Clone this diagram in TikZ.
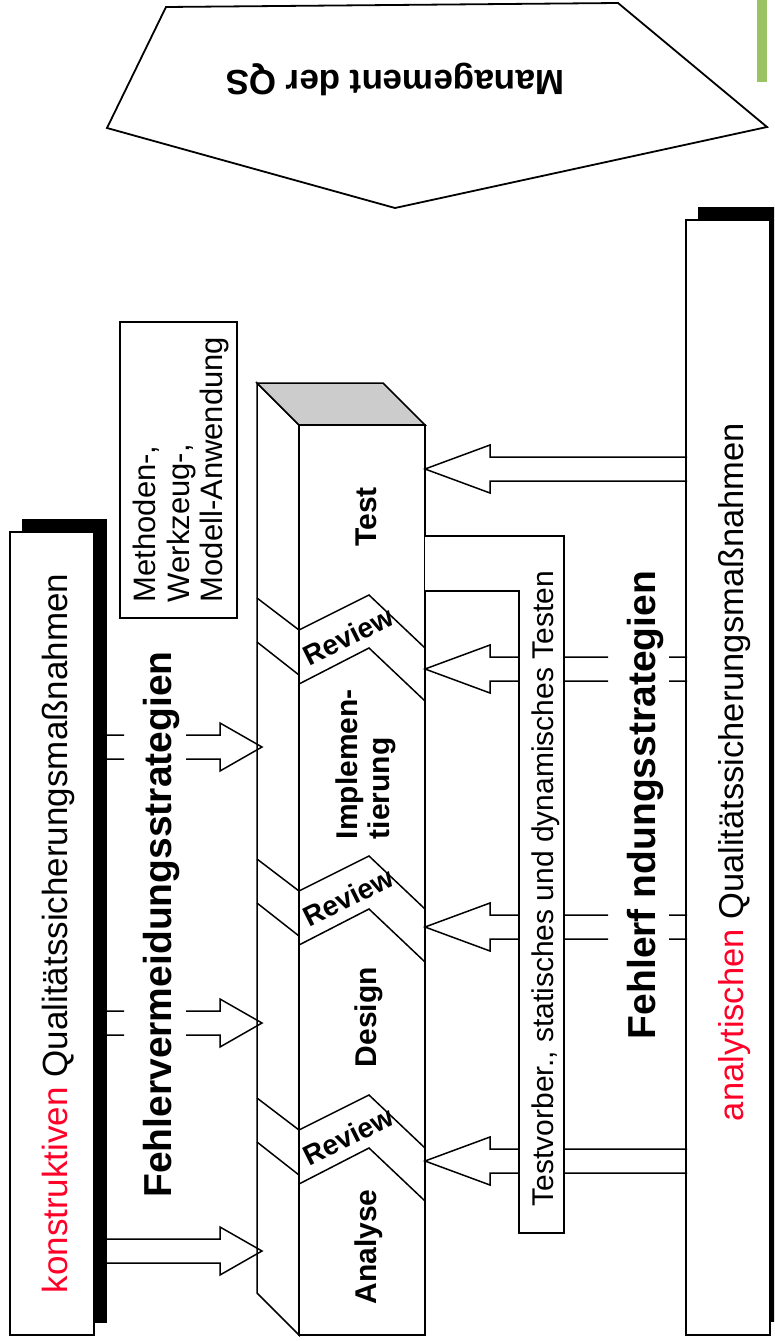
\documentclass[tikz,border=0pt]{standalone}
\usepackage{fontspec}
\setmainfont{Liberation Sans}
\definecolor{qsred}{RGB}{255,0,40}
\definecolor{qsgreen}{RGB}{155,195,100}
\definecolor{topgray}{RGB}{204,204,204}

\begin{document}
\begin{tikzpicture}[x=1pt,y=-1pt,line width=1.5pt,line join=miter,
  phase/.style={font=\fontsize{30}{32}\selectfont\bfseries,rotate=90,inner sep=0},
  reviewtext/.style={font=\fontsize{28}{32}\selectfont\bfseries,rotate=26.6,inner sep=0},
  strategy/.style={font=\fontsize{39}{44}\selectfont\bfseries,rotate=90,inner sep=0,anchor=base},
  boxtext/.style={font=\fontsize{35}{40}\selectfont,rotate=90,inner sep=0,anchor=base},
  smalltext/.style={font=\fontsize{30}{33}\selectfont,rotate=90,inner sep=0}]
\clip (0,0) rectangle (774,1341);
\useasboundingbox (0,0) rectangle (774,1341);

% management pentagon
\draw[line width=1.8pt] (166,7) -- (618,3) -- (767,127) -- (395,208) -- (107,128) -- cycle;
\node[font=\fontsize{35}{40}\selectfont\bfseries,rotate=180,anchor=base,inner sep=0] (mgmt) at (395,70) {Management der QS};

% green marker
\fill[qsgreen] (757,0) rectangle (767,82);

% constructive measures box with shadow
\fill (22,519) rectangle (107,1323);
\draw[fill=white] (10,532) rectangle (94,1335);
\node[boxtext] (konst) at (67,933.5) {\textcolor{qsred}{konstruktiven} Qualitätssicherungsmaßnahmen};

% analytical measures box with shadow
\fill (698,207) rectangle (782,1322);
\draw[fill=white] (686,220) rectangle (770,1335);
\node[boxtext,font=\fontsize{34.5}{40}\selectfont] (anal) at (743,772) {\textcolor{qsred}{analytischen} Qualitätssicherungsmaßnahmen};

% phase column
\draw[fill=white] (257,383) -- (299,425) -- (299,1335) -- (257,1293) -- cycle;
\draw[fill=topgray] (257,383) -- (383,383) -- (425,425) -- (299,425) -- cycle;
\draw[fill=white] (299,425) rectangle (425,1335);

% review bands
\foreach \Y in {598,859,1098} {
  \draw (257,\Y) -- (299,{\Y+32}) -- (369,{\Y-3}) -- (425,{\Y+50});
  \draw (257,{\Y+44}) -- (299,{\Y+77});
  \draw (299,{\Y+86}) -- (369,{\Y+50}) -- (425,{\Y+103});
  \node[reviewtext] at (348,{\Y+38}) {Review};
}

% phase labels
\node[phase,anchor=base] (test) at (376,517) {Test};
\node[phase,anchor=west,align=left] (impl) at (366,840) {Implemen-\\tierung};
\node[phase,anchor=base] (design) at (376,1017) {Design};
\node[phase,anchor=base] (analyse) at (376,1247) {Analyse};

% constructive arrows into the column
\draw (107,1239) -- (220,1239) -- (220,1227) -- (262,1251) -- (220,1275) -- (220,1263) -- (107,1263);
\draw (107,1011) -- (124,1011) (186,1011) -- (220,1011) -- (220,999) -- (262,1023) -- (220,1047) -- (220,1035) -- (186,1035) (124,1035) -- (107,1035);
\draw (107,735) -- (124,735) (186,735) -- (220,735) -- (220,723) -- (262,747) -- (220,771) -- (220,759) -- (186,759) (124,759) -- (107,759);

% analytical arrows into the column
\draw (687,457) -- (490,457) -- (490,445) -- (425,469) -- (490,493) -- (490,481) -- (687,481);
\draw (687,657) -- (669,657) (608,657) -- (490,657) -- (490,645) -- (425,669) -- (490,693) -- (490,681) -- (608,681) (669,681) -- (687,681);
\draw (687,915) -- (669,915) (608,915) -- (490,915) -- (490,903) -- (425,927) -- (490,951) -- (490,939) -- (608,939) (669,939) -- (687,939);
\draw (687,1149) -- (490,1149) -- (490,1137) -- (425,1161) -- (490,1185) -- (490,1173) -- (687,1173);

% testing bracket
\draw[fill=white] (425,536) -- (564,536) -- (564,1233) -- (519,1233) -- (519,591) -- (425,591);
\node[smalltext,anchor=base] (testv) at (553,888.5) {Testvorber., statisches und dynamisches Testen};

% strategy labels
\node[strategy] (vermeid) at (171,924.5) {Fehlervermeidungsstrategien};
\node[strategy] (find) at (655,805) {Fehlerf ndungsstrategien};

% methods box
\draw (120,322) rectangle (237,618);
\node[font=\fontsize{31}{33.5}\selectfont,rotate=90,anchor=west,align=left,inner sep=0] (meth) at (181,603) {Methoden-,\\Werkzeug-,\\Modell-Anwendung};
\end{tikzpicture}
\end{document}
